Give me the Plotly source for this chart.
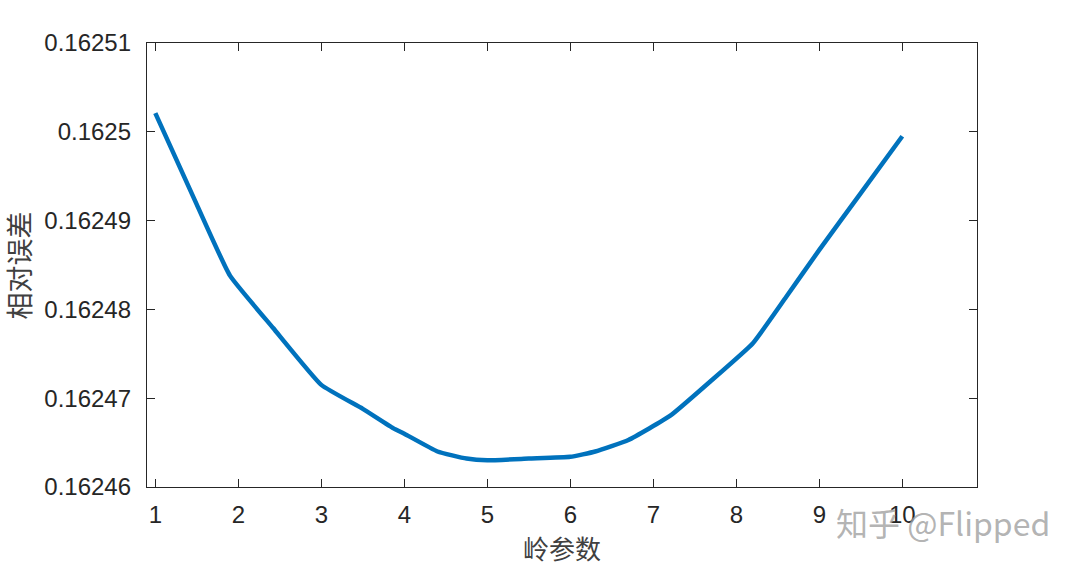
import plotly.graph_objects as go

# ridge parameter values and relative error
ridge_param = [1.0, 1.5, 1.9, 2.42, 3.0, 3.5, 3.87, 4.0, 4.4, 4.75, 5.0, 5.5,
               6.0, 6.3, 6.7, 7.2, 7.7, 8.2, 8.6, 9.0, 9.5, 10.0]
rel_error = [0.1625021, 0.1624918, 0.1624838, 0.1624779, 0.1624715, 0.1624688,
             0.1624666, 0.1624660, 0.1624640, 0.1624632, 0.1624630, 0.1624632,
             0.1624634, 0.1624640, 0.1624653, 0.1624680, 0.1624720, 0.1624762,
             0.1624814, 0.1624867, 0.1624931, 0.1624995]

x_ticks = [1, 2, 3, 4, 5, 6, 7, 8, 9, 10]
y_ticks = [0.16246, 0.16247, 0.16248, 0.16249, 0.16250, 0.16251]
y_tick_text = ["0.16246", "0.16247", "0.16248", "0.16249", "0.1625", "0.16251"]

x_title = "岭参数"
y_title = "相对误差"
watermark = "知乎 @Flipped"

axis_color = "#262626"
font_main = "Liberation Sans, Arial, sans-serif"
font_cjk = "Noto Sans CJK SC, sans-serif"

fig = go.Figure()
fig.add_trace(go.Scatter(
    x=ridge_param, y=rel_error, mode="lines",
    line=dict(color="#0072BD", width=4.5, shape="spline", smoothing=0.4),
    showlegend=False, hoverinfo="skip",
))

fig.update_layout(
    width=1080, height=567,
    margin=dict(l=147, r=103, t=43, b=80),
    paper_bgcolor="white", plot_bgcolor="white",
    font=dict(family=font_main, size=24, color=axis_color),
    xaxis=dict(
        range=[0.9, 10.9], tickvals=x_ticks,
        ticks="inside", ticklen=8, tickwidth=1.2, tickcolor=axis_color,
        showline=True, linecolor=axis_color, linewidth=1.3, mirror="allticks",
        showgrid=False, zeroline=False, ticklabelstandoff=6,
        tickfont=dict(family=font_main, size=24, color=axis_color),
    ),
    yaxis=dict(
        range=[0.16246, 0.16251], tickvals=y_ticks, ticktext=y_tick_text,
        ticks="inside", ticklen=8, tickwidth=1.2, tickcolor=axis_color,
        showline=True, linecolor=axis_color, linewidth=1.3, mirror="allticks",
        showgrid=False, zeroline=False, ticklabelstandoff=10,
        tickfont=dict(family=font_main, size=24, color=axis_color),
    ),
)

fig.add_annotation(
    text=x_title, xref="paper", yref="paper", x=0.5, y=-0.137,
    xanchor="center", yanchor="middle", showarrow=False, borderpad=0,
    font=dict(family=font_cjk, size=26, color="#404040"),
)
fig.add_annotation(
    text=y_title, xref="paper", yref="paper", x=-0.1548, y=0.498,
    xanchor="center", yanchor="middle", showarrow=False, textangle=-90, borderpad=0,
    font=dict(family=font_cjk, size=27, color="#404040"),
)
fig.add_annotation(
    text=watermark, xref="paper", yref="paper",
    x=1.0904, y=-0.079, xanchor="right", yanchor="middle", showarrow=False,
    font=dict(family=font_cjk, size=32, color="rgba(160,160,160,0.8)"),
)

fig.write_html("out.html", config={"displayModeBar": False},
               post_script="document.body.style.margin='0px';")
